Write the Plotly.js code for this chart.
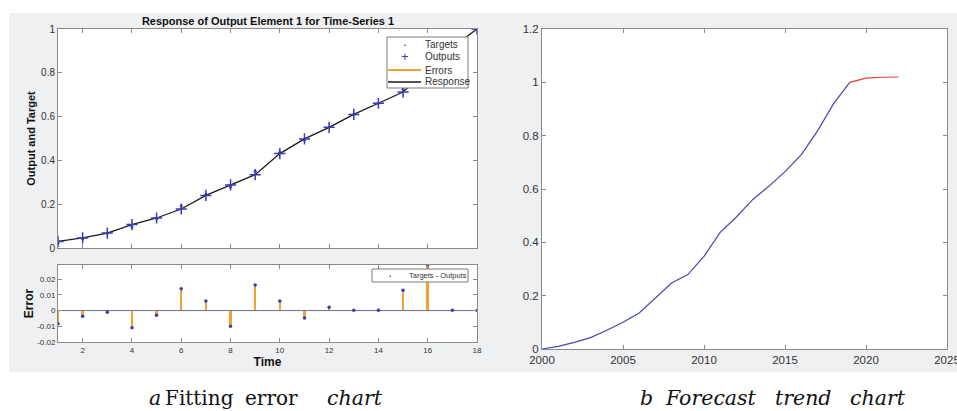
<!DOCTYPE html>
<html>
<head>
<meta charset="utf-8">
<script src="https://cdn.plot.ly/plotly-3.0.1.min.js"></script>
<style>html,body{margin:0;padding:0;background:#fff;}#chart{width:957px;height:411px;}</style>
</head>
<body>
<div id="chart"></div>
<script>
// ---- Data ----
const timeSteps = [1,2,3,4,5,6,7,8,9,10,11,12,13,14,15,16,17,18];
const outputs = [0.030,0.046,0.068,0.107,0.137,0.178,0.240,0.288,0.335,0.431,0.498,0.551,0.610,0.661,0.712,0.815,0.915,1.000];
const targets = [0.022,0.042,0.067,0.096,0.134,0.192,0.246,0.278,0.351,0.437,0.493,0.553,0.610,0.661,0.725,0.844,0.915,1.000];
const errors = [-0.0084,-0.0036,-0.0010,-0.0110,-0.0030,0.0139,0.0061,-0.0099,0.0162,0.0061,-0.0048,0.0021,0.0002,0.0002,0.0130,0.0290,0.0002,0.0000];

const historyYears = [2000,2001,2002,2003,2004,2005,2006,2007,2008,2009,2010,2011,2012,2013,2014,2015,2016,2017,2018,2019];
const historyValues = [0,0.010,0.025,0.0425,0.070,0.100,0.135,0.190,0.2475,0.279,0.3475,0.4375,0.495,0.560,0.610,0.665,0.728,0.817,0.920,1.000];
const forecastYears = [2019,2020,2021,2022];
const forecastValues = [1.000,1.016,1.019,1.020];

const respYTicks = [0,0.2,0.4,0.6,0.8,1];
const timeTicks = [2,4,6,8,10,12,14,16,18];
const errTicks = [-0.02,-0.01,0,0.01,0.02];
const errTickText = ['-0.02','-0.01','0','0.01','0.02'];
const yearTicks = [2000,2005,2010,2015,2020,2025];
const trendYTicks = [0,0.2,0.4,0.6,0.8,1,1.2];

// ---- Layout helpers (pixel -> paper) ----
const W = 957, H = 411;
const px = v => v / W;
const py = v => 1 - v / H;

const BLUE = '#3a3ab4';
const ORANGE = '#f7a030';
const AX = '#8a8a8a';
const TXT = '#333333';
const SANS = 'Liberation Sans, Arial, sans-serif';
const SERIF = 'DejaVu Serif, serif';

const traces = [
  // top-left: response
  {x: timeSteps, y: outputs, type: 'scatter', mode: 'lines', line: {color: '#1a1a1a', width: 1.3}, xaxis: 'x', yaxis: 'y', hoverinfo: 'skip'},
  {x: timeSteps, y: targets, type: 'scatter', mode: 'markers', marker: {color: BLUE, size: 3}, xaxis: 'x', yaxis: 'y'},
  {x: timeSteps, y: outputs, type: 'scatter', mode: 'markers', marker: {color: BLUE, size: 8, symbol: 'cross-thin', line: {color: BLUE, width: 1.5}}, xaxis: 'x', yaxis: 'y'},
  // bottom-left: errors
  {x: [1, 18], y: [0, 0], type: 'scatter', mode: 'lines', line: {color: '#6a6a96', width: 1}, xaxis: 'x2', yaxis: 'y2', hoverinfo: 'skip'},
  {x: timeSteps, y: errors, type: 'bar', width: 0.1, marker: {color: ORANGE, line: {width: 0}}, xaxis: 'x2', yaxis: 'y2'},
  {x: timeSteps, y: errors, type: 'scatter', mode: 'markers', marker: {color: BLUE, size: 3.5}, xaxis: 'x2', yaxis: 'y2'},
  // right: forecast trend
  {x: historyYears, y: historyValues, type: 'scatter', mode: 'lines', line: {color: '#4646b0', width: 1.2}, xaxis: 'x3', yaxis: 'y3'},
  {x: forecastYears, y: forecastValues, type: 'scatter', mode: 'lines', line: {color: '#e83a3a', width: 1.2}, xaxis: 'x3', yaxis: 'y3'}
];

function axisBase(extra) {
  return Object.assign({
    showline: true, linecolor: AX, linewidth: 1, mirror: 'ticks',
    ticks: 'inside', ticklen: 4, tickcolor: AX, tickwidth: 1,
    showgrid: false, zeroline: false, fixedrange: true,
    ticklabeloverflow: 'allow',
    tickfont: {family: SANS, size: 10, color: TXT}
  }, extra);
}

function caption(text, xPix, italic) {
  return {text: italic ? '<i>' + text + '</i>' : text, x: px(xPix), y: py(398), xref: 'paper', yref: 'paper',
    showarrow: false, xanchor: 'left', yanchor: 'middle', font: {family: SERIF, size: italic ? 20.5 : 20, color: '#111'}};
}

const layout = {
  width: W, height: H,
  margin: {l: 0, r: 0, t: 0, b: 0},
  paper_bgcolor: '#ffffff',
  plot_bgcolor: '#ffffff',
  showlegend: false,
  bargap: 0,
  title: {text: '<b>Response of Output Element 1 for Time-Series 1</b>', x: px(268), y: py(21), xanchor: 'center', yanchor: 'middle', xref: 'paper', yref: 'paper', font: {family: SANS, size: 11, color: '#111'}},
  xaxis: axisBase({domain: [px(58), px(477)], range: [1, 18], tickvals: timeTicks, showticklabels: false, anchor: 'y'}),
  yaxis: axisBase({domain: [py(248), py(29)], range: [0, 1], tickvals: respYTicks, anchor: 'x',
    title: {text: '<b>Output and Target</b>', font: {family: SANS, size: 11, color: '#111'}, standoff: 3}}),
  xaxis2: axisBase({domain: [px(58), px(477)], range: [1, 18], tickvals: timeTicks, anchor: 'y2',
    tickfont: {family: SANS, size: 8, color: TXT},
    title: {text: '<b>Time</b>', font: {family: SANS, size: 12, color: '#111'}, standoff: 2}}),
  yaxis2: axisBase({domain: [py(342), py(265)], range: [-0.02, 0.029], tickvals: errTicks, ticktext: errTickText, anchor: 'x2',
    tickfont: {family: SANS, size: 8, color: TXT},
    title: {text: '<b>Error</b>', font: {family: SANS, size: 12, color: '#111'}, standoff: 0}}),
  xaxis3: axisBase({domain: [px(542), px(947)], range: [2000, 2025], tickvals: yearTicks, anchor: 'y3',
    tickfont: {family: SANS, size: 11.5, color: TXT}}),
  yaxis3: axisBase({domain: [py(349), py(29)], range: [0, 1.2], tickvals: trendYTicks, anchor: 'x3',
    tickfont: {family: SANS, size: 11.5, color: TXT}}),
  shapes: [
    {type: 'rect', xref: 'paper', yref: 'paper', x0: px(9), x1: 1, y0: py(372), y1: py(13), fillcolor: '#eff0f1', line: {width: 0}, layer: 'below'},
    {type: 'rect', xref: 'x domain', yref: 'y domain', x0: 0, x1: 1, y0: 0, y1: 1, fillcolor: '#ffffff', line: {width: 0}, layer: 'below'},
    {type: 'rect', xref: 'x2 domain', yref: 'y2 domain', x0: 0, x1: 1, y0: 0, y1: 1, fillcolor: '#ffffff', line: {width: 0}, layer: 'below'},
    {type: 'rect', xref: 'x3 domain', yref: 'y3 domain', x0: 0, x1: 1, y0: 0, y1: 1, fillcolor: '#ffffff', line: {width: 0}, layer: 'below'},
    // legend box (top)
    {type: 'rect', xref: 'paper', yref: 'paper', x0: px(387), x1: px(468), y0: py(88), y1: py(37), fillcolor: '#ffffff', line: {color: '#7a7a7a', width: 1}},
    {type: 'line', xref: 'paper', yref: 'paper', x0: px(388), x1: px(421), y0: py(70), y1: py(70), line: {color: ORANGE, width: 2}},
    {type: 'line', xref: 'paper', yref: 'paper', x0: px(388), x1: px(421), y0: py(82), y1: py(82), line: {color: '#1a1a1a', width: 1.5}},
    // legend box (bottom)
    {type: 'rect', xref: 'paper', yref: 'paper', x0: px(372), x1: px(468), y0: py(282), y1: py(269), fillcolor: '#ffffff', line: {color: '#7a7a7a', width: 1}}
  ],
  annotations: [
    {text: '•', x: px(405), y: py(44.5), xref: 'paper', yref: 'paper', showarrow: false, xanchor: 'center', yanchor: 'middle', font: {family: SANS, size: 6, color: BLUE}},
    {text: '+', x: px(405), y: py(57), xref: 'paper', yref: 'paper', showarrow: false, xanchor: 'center', yanchor: 'middle', font: {family: SANS, size: 13, color: BLUE}},
    {text: 'Targets', x: px(423), y: py(44.5), xref: 'paper', yref: 'paper', showarrow: false, xanchor: 'left', yanchor: 'middle', font: {family: SANS, size: 10, color: TXT}},
    {text: 'Outputs', x: px(423), y: py(57), xref: 'paper', yref: 'paper', showarrow: false, xanchor: 'left', yanchor: 'middle', font: {family: SANS, size: 10, color: TXT}},
    {text: 'Errors', x: px(423), y: py(70), xref: 'paper', yref: 'paper', showarrow: false, xanchor: 'left', yanchor: 'middle', font: {family: SANS, size: 10, color: TXT}},
    {text: 'Response', x: px(423), y: py(82), xref: 'paper', yref: 'paper', showarrow: false, xanchor: 'left', yanchor: 'middle', font: {family: SANS, size: 10, color: TXT}},
    {text: '•', x: px(390), y: py(275.5), xref: 'paper', yref: 'paper', showarrow: false, xanchor: 'center', yanchor: 'middle', font: {family: SANS, size: 6, color: BLUE}},
    {text: 'Targets - Outputs', x: px(407), y: py(275.5), xref: 'paper', yref: 'paper', showarrow: false, xanchor: 'left', yanchor: 'middle', font: {family: SANS, size: 7.5, color: TXT}},
    // captions
    caption('a', 147, true),
    caption('Fitting', 163, false),
    caption('error', 243, false),
    caption('chart', 325, true),
    caption('b', 638, true),
    caption('Forecast', 663, true),
    caption('trend', 773, true),
    caption('chart', 848, true)
  ]
};

Plotly.newPlot('chart', traces, layout, {displayModeBar: false, staticPlot: true});
</script>
</body>
</html>
